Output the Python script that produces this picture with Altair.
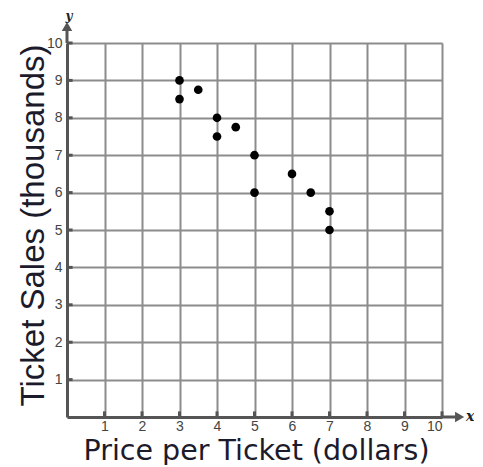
import altair as alt
import pandas as pd

price = [3, 3, 3.5, 4, 4, 4.5, 5, 5, 6, 6.5, 7, 7]
sales = [9, 8.5, 8.75, 8, 7.5, 7.75, 7, 6, 6.5, 6, 5.5, 5]
ticks = [1, 2, 3, 4, 5, 6, 7, 8, 9, 10]

pts = pd.DataFrame({"price": price, "sales": sales})
tk = pd.DataFrame({"t": ticks})

FONT = "Liberation Sans"
xs = alt.Scale(domain=[0, 10], nice=False)
ys = alt.Scale(domain=[0, 10], nice=False)

xaxis = alt.Axis(values=ticks, grid=True, gridColor="#8c8c8c", gridWidth=2,
                 domainColor="#555", domainWidth=3, ticks=False,
                 labelFont=FONT, labelFontSize=14, labelColor="#444", labelPadding=2,
                 title="Price per Ticket (dollars)", titleFont="DejaVu Sans", titleFontSize=28.5,
                 titleFontWeight="normal", titleColor="#1b1b2b",
                 titleX=189, titleY=33, titleBaseline="middle", titleAlign="center")
yaxis = alt.Axis(values=ticks, grid=True, gridColor="#8c8c8c", gridWidth=2,
                 domainColor="#555", domainWidth=3, ticks=False,
                 labelFont=FONT, labelFontSize=14, labelColor="#444", labelPadding=5,
                 title="Ticket  Sales (thousands)", titleFont=FONT, titleFontSize=33,
                 titleFontWeight="normal", titleColor="#1b1b2b",
                 titleX=-34, titleY=182, titleAngle=-90, titleBaseline="middle",
                 titleAlign="center")

points = alt.Chart(pts).mark_circle(size=75, color="black", opacity=1).encode(
    x=alt.X("price:Q", scale=xs, axis=xaxis),
    y=alt.Y("sales:Q", scale=ys, axis=yaxis),
)

xstub = alt.Chart(tk).mark_rule(color="#555", strokeWidth=3).encode(
    x=alt.X("t:Q", scale=xs), y=alt.datum(0), y2=alt.datum(0.15))
ystub = alt.Chart(tk).mark_rule(color="#555", strokeWidth=3).encode(
    y=alt.Y("t:Q", scale=ys), x=alt.datum(0), x2=alt.datum(0.15))

xarrow = alt.Chart(pd.DataFrame({"a": [10], "b": [10.45]})).mark_rule(
    color="#555", strokeWidth=3).encode(x=alt.X("a:Q", scale=xs), x2="b:Q", y=alt.datum(0))
yarrow = alt.Chart(pd.DataFrame({"a": [10], "b": [10.4]})).mark_rule(
    color="#555", strokeWidth=3).encode(y=alt.Y("a:Q", scale=ys), y2="b:Q", x=alt.datum(0))
xhead = alt.Chart(pd.DataFrame({"a": [10.47]})).mark_point(
    shape="triangle-right", filled=True, size=110, color="#555", opacity=1).encode(
    x=alt.X("a:Q", scale=xs), y=alt.datum(0))
yhead = alt.Chart(pd.DataFrame({"a": [10.44]})).mark_point(
    shape="triangle-up", filled=True, size=110, color="#555", opacity=1).encode(
    y=alt.Y("a:Q", scale=ys), x=alt.datum(0))
xlab = alt.Chart(pd.DataFrame({"a": [10.75], "t": ["x"]})).mark_text(
    font="DejaVu Serif", fontStyle="italic", fontWeight="bold", fontSize=14,
    color="#222", baseline="middle").encode(x=alt.X("a:Q", scale=xs), y=alt.datum(0), text="t:N")
ylab = alt.Chart(pd.DataFrame({"a": [10.72], "t": ["y"]})).mark_text(
    font="DejaVu Serif", fontStyle="italic", fontWeight="bold", fontSize=12,
    color="#222", baseline="middle").encode(y=alt.Y("a:Q", scale=ys), x=alt.datum(0.05), text="t:N")

chart = alt.layer(xstub, ystub, xarrow, yarrow, xhead, yhead, xlab, ylab, points).properties(
    width=375, height=374,
    autosize=alt.AutoSizeParams(type="none"),
    padding={"left": 59, "top": 35, "right": 32, "bottom": 48},
).configure_view(stroke=None).configure(background="white")

chart.save("out.html", embed_options={"renderer": "svg", "actions": False})
